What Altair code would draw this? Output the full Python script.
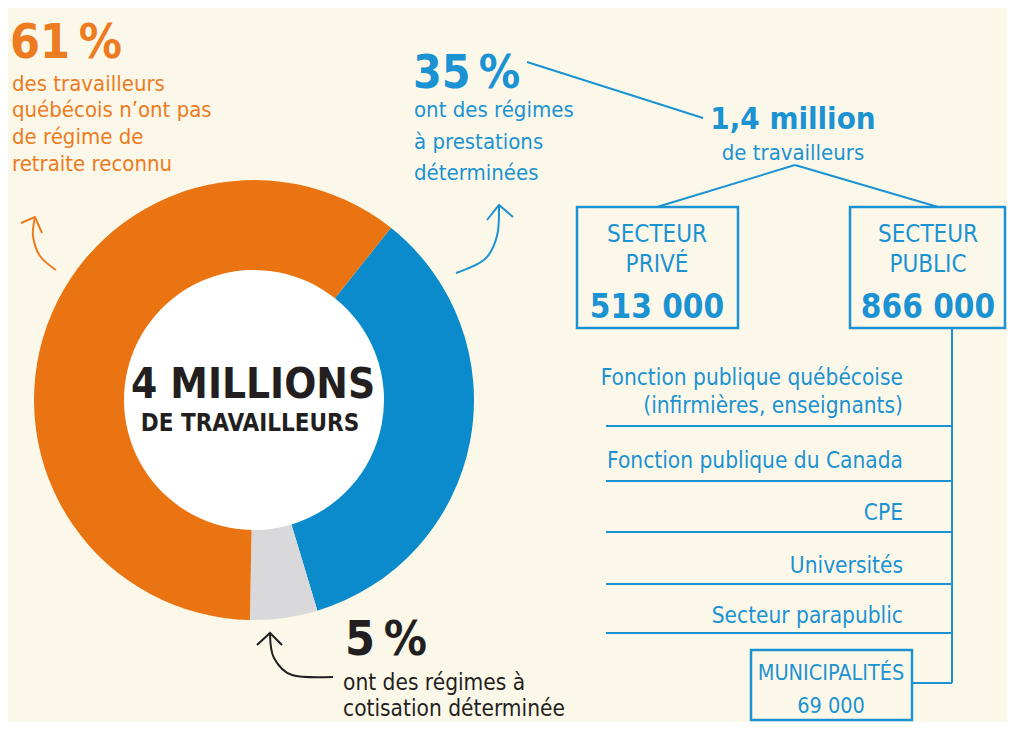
import math
import pandas as pd
import altair as alt

# ---------------- data ----------------
categories = ["Prestations déterminées", "Cotisation déterminée", "Aucun régime reconnu"]
shares = [35, 5, 61]
slice_colors = ["#0B8BCB", "#D9D8DA", "#EA7411"]

total_workers = "4 MILLIONS"
db_workers = "1,4 million"
sectors = ["SECTEUR\nPRIVÉ", "SECTEUR\nPUBLIC"]
sector_counts = ["513 000", "866 000"]
public_items = [
    "Fonction publique québécoise\n(infirmières, enseignants)",
    "Fonction publique du Canada",
    "CPE",
    "Universités",
    "Secteur parapublic",
]
municipal_label = "MUNICIPALITÉS"
municipal_count = "69 000"

# ---------------- style / layout ----------------
BG = "#FCF8E9"
ORANGE_T = "#ED7B1F"
BLUE_T = "#1B92D2"
BLACK_T = "#231F20"
FONT = "Liberation Sans Narrow, DejaVu Sans Condensed, Roboto Condensed, Roboto, sans-serif"
TS = "\u2009"  # thin space before %

# chart occupies page pixels 8..1007 x 8..722 (8px page margin)
W, H = 999, 714
xs = alt.Scale(domain=[8, 1007], nice=False, zero=False)
ys = alt.Scale(domain=[8, 722], nice=False, zero=False, reverse=True)

CX, CY, R_OUT, R_IN = 254, 400, 220, 130
START = math.radians(38.5)


def X(f="x"):
    return alt.X(f"{f}:Q", scale=xs, axis=None)


def Y(f="y"):
    return alt.Y(f"{f}:Q", scale=ys, axis=None)


def texts(rows, size, color, weight="normal", align="left"):
    df = pd.DataFrame(rows, columns=["t", "x", "y"])
    return alt.Chart(df).mark_text(
        font=FONT, fontSize=size, color=color, fontWeight=weight,
        align=align, baseline="alphabetic").encode(x=X(), y=Y(), text="t:N")


def segs(rows, color, width=2):
    df = pd.DataFrame(rows, columns=["x", "y", "x2", "y2"])
    return alt.Chart(df).mark_rule(color=color, strokeWidth=width).encode(
        x=X(), y=Y(), x2="x2:Q", y2="y2:Q")


def boxes(rows, color, width=2.5):
    df = pd.DataFrame(rows, columns=["x", "y", "x2", "y2"])
    return alt.Chart(df).mark_rect(fill=None, stroke=color, strokeWidth=width).encode(
        x=X(), y=Y(), x2="x2:Q", y2="y2:Q")


def curve(points, color, width=2):
    df = pd.DataFrame(points, columns=["x", "y"])
    df["o"] = range(len(df))
    return alt.Chart(df).mark_line(color=color, strokeWidth=width,
                                   interpolate="cardinal").encode(
        x=X(), y=Y(), order="o:Q")


def head(points, color, width=2):
    df = pd.DataFrame(points, columns=["x", "y"])
    df["o"] = range(len(df))
    return alt.Chart(df).mark_line(color=color, strokeWidth=width,
                                   strokeJoin="miter").encode(
        x=X(), y=Y(), order="o:Q")


# ---------------- donut ----------------
donut_df = pd.DataFrame({"cat": categories, "v": shares, "col": slice_colors,
                         "o": range(3), "cx": CX, "cy": CY})
white = alt.Chart(pd.DataFrame({"cx": [CX], "cy": [CY]})).mark_arc(
    radius=R_IN + 2, theta=0, theta2=2 * math.pi, color="white").encode(
    x=X("cx"), y=Y("cy"))
donut = alt.Chart(donut_df).mark_arc(radius=R_OUT, radius2=R_IN).encode(
    theta=alt.Theta("v:Q", stack=True,
                    scale=alt.Scale(range=[START, START + 2 * math.pi])),
    color=alt.Color("col:N", scale=None),
    order=alt.Order("o:Q"),
    x=X("cx"), y=Y("cy"),
)

layers = [white, donut]

# centre text
layers.append(texts([(total_workers, 253, 398)], 42, BLACK_T, "bold", "center"))
layers.append(texts([("DE TRAVAILLEURS", 250, 431)], 24, BLACK_T, "bold", "center"))

# orange block
layers.append(texts([(f"{shares[2]}{TS}%", 10, 58)], 48, ORANGE_T, "bold"))
layers.append(texts([("des travailleurs", 12, 91), ("québécois n’ont pas", 12, 117),
                     ("de régime de", 12, 144), ("retraite reconnu", 12, 171)],
                    22, ORANGE_T))
layers.append(curve([(56, 270), (40, 256), (33, 236), (35, 218)], ORANGE_T))
layers.append(head([(21, 223), (35, 217), (42, 233)], ORANGE_T))

# blue block
layers.append(texts([(f"{shares[0]}{TS}%", 413, 88)], 46, BLUE_T, "bold"))
layers.append(texts([("ont des régimes", 414, 117), ("à prestations", 414, 149),
                     ("déterminées", 414, 180)], 22, BLUE_T))
layers.append(curve([(456, 273), (485, 259), (497, 236), (499, 206)], BLUE_T))
layers.append(head([(487, 220), (499, 205), (513, 217)], BLUE_T))

# black block
layers.append(texts([(f"{shares[1]}{TS}%", 345, 655)], 48, BLACK_T, "bold"))
layers.append(texts([("ont des régimes à", 343, 690), ("cotisation déterminée", 343, 716)],
                    22.5, BLACK_T))
layers.append(curve([(333, 677), (292, 675), (274, 658), (270, 634)], BLACK_T))
layers.append(head([(257, 645), (270, 633), (282, 645)], BLACK_T))

# tree
layers.append(segs([(527, 62, 703, 118), (795, 165, 657, 207), (795, 165, 938, 207),
                    (952, 328, 952, 683), (912, 683, 952, 683)] +
                   [(606, yy, 952, yy) for yy in [426, 481, 532, 584, 633]], BLUE_T))
layers.append(boxes([(577, 207, 738, 328), (850, 207, 1005, 328), (751, 650, 912, 720)], BLUE_T))

layers.append(texts([(db_workers, 793, 129)], 31, BLUE_T, "bold", "center"))
layers.append(texts([("de travailleurs", 793, 160)], 22, BLUE_T, "normal", "center"))

sec_rows = []
for s, xc in zip(sectors, [657, 928]):
    a, b = s.split("\n")
    sec_rows += [(a, xc, 242), (b, xc, 272)]
layers.append(texts(sec_rows, 24, BLUE_T, "normal", "center"))
layers.append(texts([(sector_counts[0], 657, 318), (sector_counts[1], 928, 318)],
                    33, BLUE_T, "bold", "center"))

item_y = [(385, 413), 468, 520, 573, 623]
item_rows = []
for it, yy in zip(public_items, item_y):
    if isinstance(yy, tuple):
        a, b = it.split("\n")
        item_rows += [(a, 903, yy[0]), (b, 903, yy[1])]
    else:
        item_rows.append((it, 903, yy))
layers.append(texts(item_rows, 22.5, BLUE_T, "normal", "right"))
layers.append(texts([(municipal_label, 831, 680), (municipal_count, 831, 713)],
                    21.5, BLUE_T, "normal", "center"))

chart = alt.layer(*layers).properties(
    width=W, height=H, background=BG, padding=0, autosize="none"
).configure_view(stroke=None)

chart.save("out.html", embed_options={"renderer": "svg", "actions": False})
